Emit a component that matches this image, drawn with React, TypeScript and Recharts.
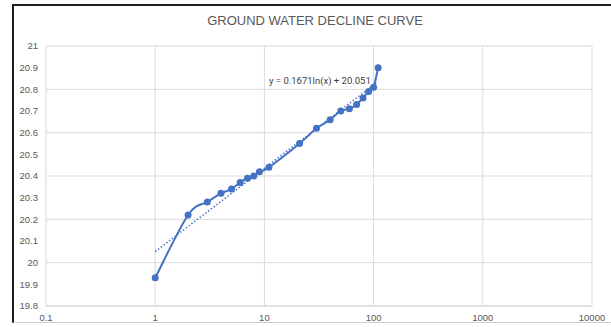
import { LineChart, Line, XAxis, YAxis, CartesianGrid, ReferenceLine } from "recharts";

// time (log axis) vs ground water level
const xValues = [1, 2, 3, 4, 5, 6, 7, 8, 9, 11, 21, 30, 40, 50, 60, 70, 80, 90, 100, 110];
const levels = [
  19.93, 20.22, 20.28, 20.32, 20.34, 20.37, 20.39, 20.4, 20.42, 20.44, 20.55, 20.62, 20.66, 20.7, 20.71,
  20.73, 20.76, 20.79, 20.81, 20.9,
];

const xTicks = [0.1, 1, 10, 100, 1000, 10000];
const yTicks = [19.8, 19.9, 20, 20.1, 20.2, 20.3, 20.4, 20.5, 20.6, 20.7, 20.8, 20.9, 21];

// logarithmic trendline end points
const trendX = [1, 110];
const trendY = [20.051, 20.836];
const trendLabel = "y = 0.1671ln(x) + 20.051";

const title = "GROUND WATER DECLINE CURVE";

const data = xValues.map((x, i) => ({ x, level: levels[i] }));

const tickStyle = { fontSize: 9.5, fill: "#595959", fontFamily: "'Liberation Sans', Arial, sans-serif" };

// Excel-like smoothed line (Catmull-Rom through the points)
function smoothCurve(context: any) {
  let pts: number[][] = [];
  return {
    areaStart() {},
    areaEnd() {},
    lineStart() {
      pts = [];
    },
    point(x: number, y: number) {
      pts.push([+x, +y]);
    },
    lineEnd() {
      if (!pts.length) return;
      context.moveTo(pts[0][0], pts[0][1]);
      for (let i = 0; i < pts.length - 1; i++) {
        const p0 = pts[Math.max(i - 1, 0)];
        const p1 = pts[i];
        const p2 = pts[i + 1];
        const p3 = pts[Math.min(i + 2, pts.length - 1)];
        context.bezierCurveTo(
          p1[0] + (p2[0] - p0[0]) / 6,
          p1[1] + (p2[1] - p0[1]) / 6,
          p2[0] - (p3[0] - p1[0]) / 6,
          p2[1] - (p3[1] - p1[1]) / 6,
          p2[0],
          p2[1]
        );
      }
    },
  };
}

export default function App() {
  return (
    <div style={{ position: "absolute", left: 0, top: 0, width: 611, height: 327, background: "#fff", overflow: "hidden" }}>
      <div
        style={{
          position: "absolute",
          left: 12,
          top: 4,
          width: 620,
          height: 316,
          borderLeft: "2px solid #1e1e1e",
          borderTop: "2px solid #1e1e1e",
          borderBottom: "1px solid #cfcfcf",
        }}
      />
      <div
        style={{
          position: "absolute",
          left: 0,
          width: 630,
          top: 13,
          textAlign: "center",
          fontFamily: "'Liberation Sans', Arial, sans-serif",
          fontSize: 13,
          color: "#595959",
        }}
      >
        {title}
      </div>
      <div
        style={{
          position: "absolute",
          left: 269,
          top: 75,
          fontFamily: "Roboto, 'Liberation Sans', sans-serif",
          fontSize: 9.5,
          color: "#404040",
          whiteSpace: "nowrap",
        }}
      >
        {trendLabel}
      </div>
      <LineChart
        width={611}
        height={327}
        data={data}
        margin={{ top: 46, right: 19, left: 0, bottom: 0 }}
        style={{ position: "absolute", left: 0, top: 0 }}
      >
        <CartesianGrid stroke="#d9d9d9" />
        <XAxis
          dataKey="x"
          type="number"
          scale="log"
          domain={[0.1, 10000]}
          ticks={xTicks}
          allowDataOverflow
          height={21}
          axisLine={{ stroke: "#d9d9d9" }}
          tickLine={false}
          tick={tickStyle}
          tickFormatter={(v: number) => String(v)}
        />
        <YAxis
          type="number"
          domain={[19.8, 21]}
          ticks={yTicks}
          width={46}
          axisLine={false}
          tickLine={false}
          tick={tickStyle}
          tickFormatter={(v: number) => String(Number(v.toFixed(1)))}
        />
        <ReferenceLine
          segment={[
            { x: trendX[0], y: trendY[0] },
            { x: trendX[1], y: trendY[1] },
          ]}
          stroke="#4472C4"
          strokeWidth={1.5}
          strokeDasharray="1.5 2"
        />
        <Line
          type={smoothCurve as any}
          dataKey="level"
          stroke="#4472C4"
          strokeWidth={2}
          dot={{ r: 3.5, fill: "#4472C4", stroke: "#4472C4", strokeWidth: 0 }}
          isAnimationActive={false}
        />
      </LineChart>
    </div>
  );
}
